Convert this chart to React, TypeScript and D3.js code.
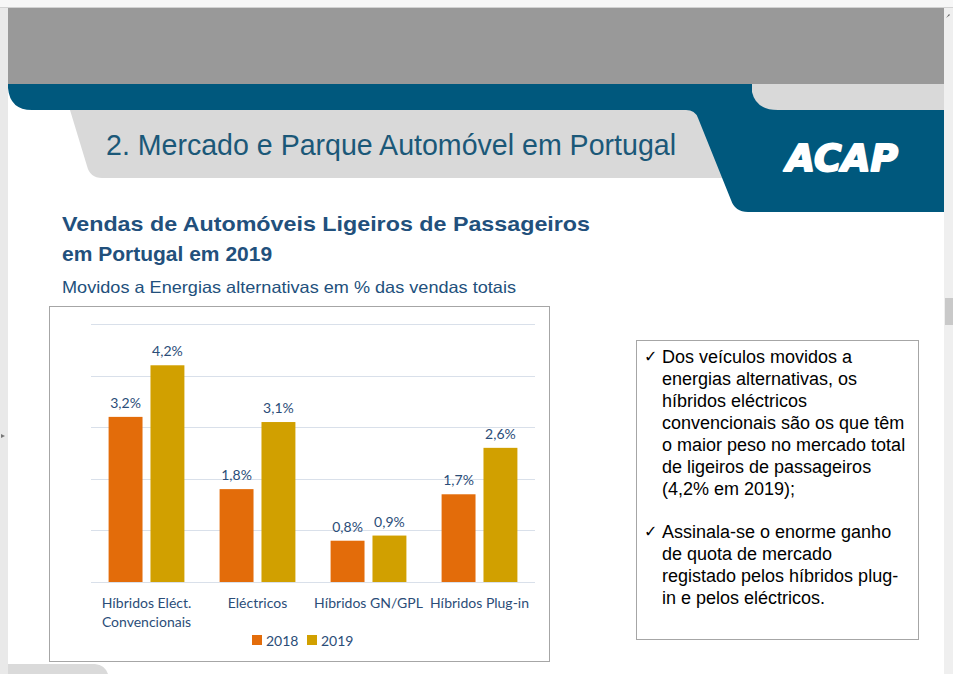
import React from "react";
import * as d3 from "d3";

// chart data
const categories: string[][] = [
  ["Híbridos Eléct.", "Convencionais"],
  ["Eléctricos"],
  ["Híbridos GN/GPL"],
  ["Híbridos Plug-in"],
];
const years = ["2018", "2019"];
const values2018 = [3.2, 1.8, 0.8, 1.7];
const values2019 = [4.2, 3.1, 0.9, 2.6];
const gridTicks = [0, 1, 2, 3, 4, 5];

const bulletLines1 = [
  "Dos veículos movidos a",
  "energias alternativas, os",
  "híbridos eléctricos",
  "convencionais são os que têm",
  "o maior peso no mercado total",
  "de ligeiros de passageiros",
  "(4,2% em 2019);",
];
const bulletLines2 = [
  "Assinala-se o enorme ganho",
  "de quota de mercado",
  "registado pelos híbridos plug-",
  "in e pelos eléctricos.",
];

const colors: Record<string, string> = { "2018": "#e36c0a", "2019": "#d1a000" };
const BLUE = "#00587d";
const TEXT_BLUE = "#22507c";
const LABEL_BLUE = "#2b4d78";
const chartFont = "Lato, 'Open Sans', sans-serif";
const arial = "'Liberation Sans', Arial, sans-serif";

const fmt = (v: number) => v.toFixed(1).replace(".", ",") + "%";

const App: React.FC = () => {
  const width = 953;
  const height = 674;

  const x = d3
    .scaleBand<number>()
    .domain(categories.map((_, i) => i))
    .range([91, 535]);
  const xSub = d3
    .scaleBand<string>()
    .domain(years)
    .range([0, x.bandwidth()])
    .paddingInner(0.19)
    .paddingOuter(0.42);
  const y = d3.scaleLinear().domain([0, 5]).range([582, 324]);

  const series = [
    { year: "2018", values: values2018 },
    { year: "2019", values: values2019 },
  ];

  return (
    <svg
      width={width}
      height={height}
      style={{ position: "absolute", left: 0, top: 0, background: "#fff" }}
    >
      {/* viewer chrome */}
      <rect x={0} y={0} width={width} height={8} fill="#f7f7f7" />
      <line x1={0} x2={width} y1={7.5} y2={7.5} stroke="#d2d2d2" />
      <rect x={0} y={8} width={8} height={666} fill="#e9e9e9" />
      <rect x={944} y={8} width={9} height={666} fill="#efefef" />
      <rect x={945} y={298} width={8} height={27} fill="#c9c9c9" />
      <path d="M946,18 L949,14 L950,15 Z" fill="#666" />
      <path d="M1,434 L5,436 L1,438 Z" fill="#777" />

      {/* next slide peek */}
      <path d="M8,674 V664 H95 Q105,665 108,674 Z" fill="#dadada" />

      {/* slide header */}
      <rect x={8} y={8} width={936} height={76} fill="#999999" />
      <path d="M70,110 H725 V178 H102 Q90,178 87,166 Z" fill="#d9d9d9" />
      <path
        d="M8,84 H944 V212 H748 Q735,212 731,200 L698,118 Q695,110 686,110 H32 Q10,110 8,88 Z"
        fill={BLUE}
      />
      <path d="M752,84 H944 V110 H778 Q756,110 752,92 Z" fill="#d9d9d9" />
      <text
        x={106}
        y={155}
        fontFamily={arial}
        fontSize={30}
        fill="#1b5878"
        textLength={570}
        lengthAdjust="spacingAndGlyphs"
      >
        2. Mercado e Parque Automóvel em Portugal
      </text>
      <text
        x={786}
        y={171}
        fontFamily="'DejaVu Sans', sans-serif"
        fontSize={38}
        fontWeight="bold"
        fontStyle="italic"
        fill="#fff"
        stroke="#fff"
        strokeWidth={2}
        strokeLinejoin="round"
        textLength={112}
        lengthAdjust="spacingAndGlyphs"
      >
        ACAP
      </text>

      {/* headings */}
      <g fontFamily={arial} fill={TEXT_BLUE}>
        <text x={62} y={231} fontSize={21} fontWeight="bold" textLength={528} lengthAdjust="spacingAndGlyphs">
          Vendas de Automóveis Ligeiros de Passageiros
        </text>
        <text x={62} y={261} fontSize={21} fontWeight="bold">
          em Portugal em 2019
        </text>
        <text x={62} y={293} fontSize={16.5} textLength={454} lengthAdjust="spacingAndGlyphs">
          Movidos a Energias alternativas em % das vendas totais
        </text>
      </g>

      {/* chart frame */}
      <rect x={49.5} y={306.5} width={500} height={355} fill="#fff" stroke="#a6a6a6" strokeWidth={1} />

      {/* gridlines */}
      <g>
        {gridTicks.map((t) => (
          <line
            key={t}
            x1={91}
            x2={535}
            y1={Math.round(y(t)) + 0.5}
            y2={Math.round(y(t)) + 0.5}
            stroke="#d9e0ea"
            strokeWidth={1}
          />
        ))}
      </g>

      {/* bars */}
      {series.map((s) => (
        <g key={s.year}>
          {s.values.map((v, i) => {
            const bx = (x(i) ?? 0) + (xSub(s.year) ?? 0);
            return (
              <g key={i}>
                <rect
                  x={bx}
                  y={y(v)}
                  width={xSub.bandwidth()}
                  height={y(0) - y(v)}
                  fill={colors[s.year]}
                />
                <text
                  x={bx + xSub.bandwidth() / 2}
                  y={y(v) - 9}
                  textAnchor="middle"
                  fontFamily={chartFont}
                  fontSize={14}
                  fill={LABEL_BLUE}
                >
                  {fmt(v)}
                </text>
              </g>
            );
          })}
        </g>
      ))}

      {/* category labels */}
      {categories.map((lines, i) => (
        <text
          key={i}
          textAnchor="middle"
          fontFamily={chartFont}
          fontSize={14}
          fill={LABEL_BLUE}
        >
          {lines.map((l, j) => (
            <tspan key={j} x={(x(i) ?? 0) + x.bandwidth() / 2} y={608 + j * 19}>
              {l}
            </tspan>
          ))}
        </text>
      ))}

      {/* legend */}
      {years.map((yr, i) => (
        <g key={yr} transform={`translate(${252 + i * 55},635)`}>
          <rect x={0} y={0} width={10} height={10} fill={colors[yr]} />
          <text x={14} y={10.5} fontFamily={chartFont} fontSize={14} fill={LABEL_BLUE}>
            {yr}
          </text>
        </g>
      ))}

      {/* commentary box */}
      <rect x={636.5} y={340.5} width={282} height={299} fill="#fff" stroke="#a6a6a6" />
      <g fontFamily={arial} fontSize={18} fill="#000">
        <text x={644} y={362} fontSize={16} fontFamily="'DejaVu Sans', sans-serif">✓</text>
        {bulletLines1.map((l, i) => (
          <text key={i} x={662} y={363 + i * 22}>
            {l}
          </text>
        ))}
        <text x={644} y={537} fontSize={16} fontFamily="'DejaVu Sans', sans-serif">✓</text>
        {bulletLines2.map((l, i) => (
          <text key={i} x={662} y={538 + i * 22}>
            {l}
          </text>
        ))}
      </g>
    </svg>
  );
};

export default App;
